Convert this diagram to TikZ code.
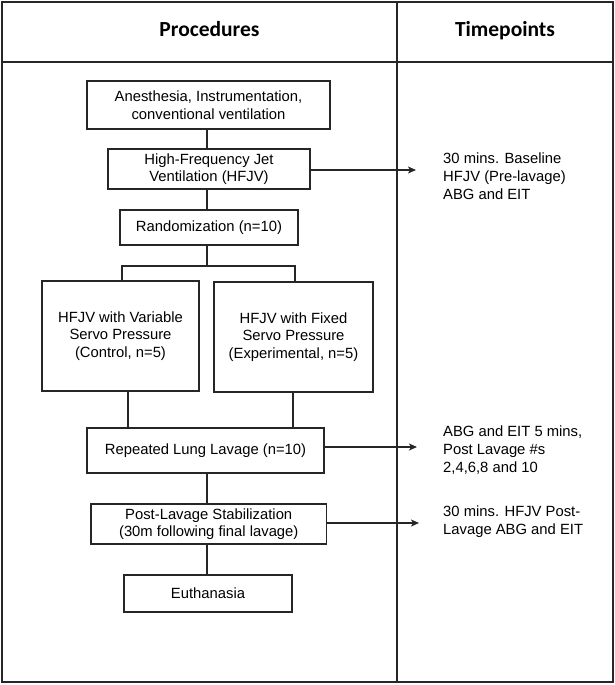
\documentclass[tikz,border=0pt]{standalone}
\usepackage{fontspec}
\setmainfont{Liberation Sans}
\newfontfamily\hdrfont{Carlito}
\usetikzlibrary{arrows.meta}
\begin{document}
\begin{tikzpicture}[x=1pt,y=-1pt,
  box/.style={draw=black!85,line width=1.5pt,inner sep=0pt,align=center,
    font=\fontsize{14.8}{17.5}\selectfont},
  conn/.style={draw=black!85,line width=1.5pt},
  arr/.style={draw=black!85,line width=1.4pt,-{Stealth[length=8pt,width=7pt,inset=2pt]}},
  note/.style={anchor=west,align=left,inner sep=0pt,font=\fontsize{14.8}{18}\selectfont},
  hdr/.style={font=\hdrfont\bfseries\fontsize{21.5}{24}\selectfont,inner sep=0pt,anchor=base}]
\useasboundingbox (0,0) rectangle (615,685);
% frame
\draw[line width=1.6pt,black!85] (2,2) rectangle (613,682);
\draw[line width=1.6pt,black!85] (2,62) -- (613,62);
\draw[line width=1.6pt,black!85] (397,2) -- (397,682);
\node[hdr] (hp) at (209.5,37) {Procedures};
\node[hdr] (ht) at (505,37) {Timepoints};
% boxes
\node[box,minimum width=243,minimum height=48] (a) at (208.5,105) {Anesthesia, Instrumentation,\\conventional ventilation};
\node[box,minimum width=202,minimum height=40] (b) at (209,169) {High-Frequency Jet\\Ventilation (HFJV)};
\node[box,minimum width=178,minimum height=35] (c) at (209,227.5) {Randomization (n=10)};
\node[box,minimum width=157,minimum height=110] (d) at (120.5,336) {HFJV with Variable\\Servo Pressure\\(Control, n=5)};
\node[box,minimum width=159,minimum height=110] (e) at (293.5,337) {HFJV with Fixed\\Servo Pressure\\(Experimental, n=5)};
\node[box,minimum width=237,minimum height=45] (f) at (205.5,450.5) {Repeated Lung Lavage (n=10)};
\node[box,minimum width=235.5,minimum height=40] (g) at (208.75,524) {Post-Lavage Stabilization\\(30m following final lavage)};
\node[box,minimum width=168,minimum height=37] (h) at (208,593.5) {Euthanasia};
% connectors
\coordinate (sx) at (207,0);
\coordinate (br) at (207,266);
\coordinate (dl) at (122,0);
\coordinate (er) at (295,0);
\coordinate (dx) at (128,0);
\coordinate (ex) at (293,0);
\draw[conn] (a.south -| sx) -- (b.north -| sx);
\draw[conn] (b.south -| sx) -- (c.north -| sx);
\draw[conn] (c.south -| sx) -- (br);
\draw[conn] (d.north -| dl) |- (br) -| (e.north -| er);
\draw[conn] (d.south -| dx) -- (f.north -| dx);
\draw[conn] (e.south -| ex) -- (f.north -| ex);
\draw[conn] (f.south -| sx) -- (g.north -| sx);
\draw[conn] (g.south -| sx) -- (h.north -| sx);
% timepoints
\coordinate (t1) at (416,170);
\coordinate (t2) at (417,447);
\coordinate (t3) at (419,523);
\draw[arr] (b.east |- t1) -- (t1);
\draw[arr] (f.east |- t2) -- (t2);
\draw[arr] (g.east |- t3) -- (t3);
\node[note] (n1) at (443,176) {30 mins. Baseline\\HFJV (Pre-lavage)\\ABG and EIT};
\node[note] (n2) at (443,450) {ABG and EIT 5 mins,\\Post Lavage \#s\\2,4,6,8 and 10};
\node[note] (n3) at (443,521.5) {30 mins. HFJV Post-\\Lavage ABG and EIT};
\end{tikzpicture}
\end{document}
